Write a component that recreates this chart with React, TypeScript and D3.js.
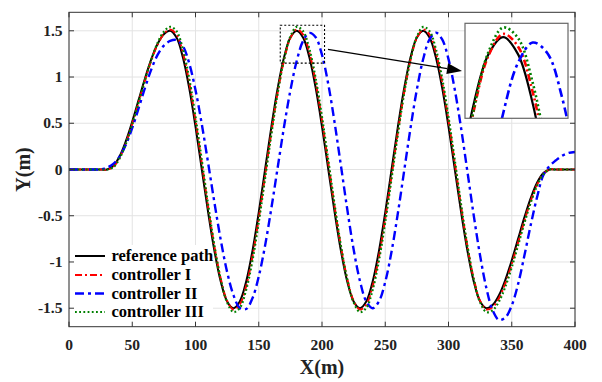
import React from 'react';
import * as d3 from 'd3';

const xs = [0,5,10,15,20,25,30,35,40,45,50,55,60,65,70,75,80,85,90,95,100,105,110,115,120,125,130,135,140,145,150,155,160,165,170,175,180,185,190,195,200,205,210,215,220,225,230,235,240,245,250,255,260,265,270,275,280,285,290,295,300,305,310,315,320,325,330,335,340,345,350,355,360,365,370,375,380,385,390,395,400];

const refPath = [0,0,0,0,0,0,0,
  0.037,0.143,0.309,0.518,0.75,0.982,1.191,1.357,1.463,1.5,
  1.427,1.214,0.882,0.464,0,-0.464,-0.882,-1.214,-1.427,-1.5,
  -1.427,-1.214,-0.882,-0.464,0,0.464,0.882,1.214,1.427,1.5,
  1.427,1.214,0.882,0.464,0,-0.464,-0.882,-1.214,-1.427,-1.5,
  -1.427,-1.214,-0.882,-0.464,0,0.464,0.882,1.214,1.427,1.5,
  1.427,1.214,0.882,0.464,0,-0.464,-0.882,-1.214,-1.427,-1.5,
  -1.463,-1.357,-1.191,-0.982,-0.75,-0.518,-0.309,-0.143,-0.037,0,
  0,0,0,0];

const ctrl1 = [0,0,0,0,0,0,0,
  0.028,0.126,0.286,0.492,0.724,0.96,1.176,1.349,1.468,1.514,
  1.46,1.264,0.944,0.53,0.067,-0.405,-0.836,-1.184,-1.421,-1.514,
  -1.46,-1.264,-0.944,-0.53,-0.067,0.405,0.836,1.184,1.421,1.514,
  1.46,1.264,0.944,0.53,0.067,-0.405,-0.836,-1.184,-1.421,-1.514,
  -1.46,-1.264,-0.944,-0.53,-0.067,0.405,0.836,1.184,1.421,1.514,
  1.46,1.264,0.944,0.53,0.067,-0.405,-0.836,-1.184,-1.421,-1.514,
  -1.487,-1.389,-1.229,-1.023,-0.791,-0.555,-0.339,-0.166,-0.047,0,
  0,0,0,0];

const ctrl2 = [0,0,0,0,0,0,
  0.02,0.06,0.14,0.27,0.45,0.66,0.88,1.08,1.24,1.34,1.39,1.4,
  1.336,1.15,0.86,0.488,0.069,-0.361,-0.765,-1.108,-1.358,-1.498,
  -1.509,-1.393,-1.157,-0.823,-0.416,0.024,0.462,0.855,1.173,1.389,1.477,
  1.431,1.239,0.92,0.504,0.038,-0.433,-0.864,-1.205,-1.426,-1.5,
  -1.427,-1.215,-0.886,-0.47,-0.01,0.45,0.866,1.195,1.407,1.48,
  1.407,1.194,0.861,0.443,-0.027,-0.501,-0.933,-1.286,-1.526,-1.627,
  -1.6,-1.47,-1.24,-0.93,-0.6,-0.3,-0.06,0.04,0.1,0.15,0.18,0.19];

const ctrl3 = [0,0,0,0,0,0,0,
  0.024,0.12,0.28,0.488,0.724,0.965,1.186,1.368,1.491,1.543,
  1.497,1.304,0.985,0.569,0.097,-0.384,-0.828,-1.19,-1.437,-1.542,
  -1.497,-1.304,-0.985,-0.569,-0.097,0.384,0.828,1.19,1.437,1.542,
  1.497,1.304,0.985,0.569,0.097,-0.384,-0.828,-1.19,-1.437,-1.542,
  -1.497,-1.304,-0.985,-0.569,-0.097,0.384,0.828,1.19,1.437,1.542,
  1.497,1.304,0.985,0.569,0.097,-0.384,-0.828,-1.19,-1.437,-1.542,
  -1.521,-1.425,-1.265,-1.057,-0.821,-0.58,-0.359,-0.177,-0.054,0,
  0,0,0,0];

const xTicks = [0,50,100,150,200,250,300,350,400];
const yTicks = [-1.5,-1,-0.5,0,0.5,1,1.5];
const yTickLabels = ['-1.5','-1','-0.5','0','0.5','1','1.5'];
const legendLabels = ['reference path','controller I','controller II','controller III'];
const zoomX = [167, 202];
const zoomY = [1.15, 1.56];

const FONT = '"Liberation Serif", "Times New Roman", serif';

const styles = [
  { color: '#000000', width: 2, dash: null, iw: 2.2, idash: null },
  { color: '#ff0000', width: 2, dash: '7,3,2,3', iw: 2.6, idash: '7,3,2,3' },
  { color: '#0000ff', width: 2.4, dash: '9,4,3,4', iw: 2.6, idash: '9,4,3,4' },
  { color: '#008000', width: 2.2, dash: '1.8,2.4', iw: 2.6, idash: '2,2.6' },
];

export default function App() {
  const W = 602, H = 382;
  const L = 69, R = 575, T = 12.3, B = 326.7;
  const x = d3.scaleLinear().domain([0, 400]).range([L, R]);
  const y = d3.scaleLinear().domain([-1.7, 1.7]).range([B, T]);
  const series = [refPath, ctrl1, ctrl2, ctrl3];

  const line = d3.line<number>()
    .x((_, i) => x(xs[i]))
    .y((d) => y(d))
    .curve(d3.curveCatmullRom.alpha(0.5));

  const iL = 465, iR = 568, iT = 23.3, iB = 118.3;
  const ix = d3.scaleLinear().domain(zoomX).range([iL, iR]);
  const iy = d3.scaleLinear().domain(zoomY).range([iB, iT]);
  const iline = d3.line<number>()
    .x((_, i) => ix(xs[i]))
    .y((d) => iy(d))
    .curve(d3.curveCatmullRom.alpha(0.5));

  const axisColor = '#333';
  const gridColor = '#e3e3e3';
  const tickLen = 5;

  const ax0 = 328, ay0 = 49.3, ax1 = 462, ay1 = 71;
  const ang = Math.atan2(ay1 - ay0, ax1 - ax0);
  const hl = 15, hw = 5.5;
  const bx = ax1 - hl * Math.cos(ang), by = ay1 - hl * Math.sin(ang);
  const head = `M${ax1},${ay1} L${bx + hw * Math.sin(ang)},${by - hw * Math.cos(ang)} L${bx - hw * Math.sin(ang)},${by + hw * Math.cos(ang)} Z`;

  const legRows = [256, 275, 293.5, 312];

  return (
    <svg width={W} height={H} style={{ position: 'absolute', left: 0, top: 0, background: '#fff' }} fontFamily={FONT}>
      <defs>
        <clipPath id="plotclip"><rect x={L} y={T} width={R - L} height={B - T} /></clipPath>
        <clipPath id="insetclip"><rect x={iL} y={iT} width={iR - iL} height={iB - iT} /></clipPath>
      </defs>
      <rect x={0} y={0} width={W} height={H} fill="#fff" />
      {xTicks.map((t) => (
        <line key={'gx' + t} x1={x(t)} x2={x(t)} y1={T} y2={B} stroke={gridColor} strokeWidth={1} />
      ))}
      {yTicks.map((t) => (
        <line key={'gy' + t} x1={L} x2={R} y1={y(t)} y2={y(t)} stroke={gridColor} strokeWidth={1} />
      ))}
      <rect x={70} y={245} width={143} height={81} fill="#fff" />
      <g clipPath="url(#plotclip)">
        {series.map((s, k) => (
          <path key={'s' + k} d={line(s) || ''} fill="none" stroke={styles[k].color}
            strokeWidth={styles[k].width} strokeDasharray={styles[k].dash || undefined} strokeLinejoin="round" />
        ))}
      </g>
      <rect x={x(zoomX[0])} y={y(zoomY[1])} width={x(zoomX[1]) - x(zoomX[0])} height={y(zoomY[0]) - y(zoomY[1])}
        fill="none" stroke="#000" strokeWidth={1.1} strokeDasharray="2,2" />
      <line x1={ax0} y1={ay0} x2={bx} y2={by} stroke="#000" strokeWidth={1.3} />
      <path d={head} fill="#000" />
      <rect x={iL} y={iT} width={iR - iL} height={iB - iT} fill="#fff" stroke="none" />
      <g clipPath="url(#insetclip)">
        {series.map((s, k) => (
          <path key={'i' + k} d={iline(s) || ''} fill="none" stroke={styles[k].color}
            strokeWidth={styles[k].iw} strokeDasharray={styles[k].idash || undefined} />
        ))}
      </g>
      <rect x={iL} y={iT} width={iR - iL} height={iB - iT} fill="none" stroke="#666" strokeWidth={1.2} />
      {legendLabels.map((lab, k) => (
        <g key={'lg' + k}>
          <line x1={75} x2={105} y1={legRows[k]} y2={legRows[k]} stroke={styles[k].color}
            strokeWidth={styles[k].width} strokeDasharray={styles[k].dash || undefined} />
          <text x={111.5} y={legRows[k] + 5.2} fontSize={16.5} fontWeight="bold" fill="#000">{lab}</text>
        </g>
      ))}
      <rect x={L} y={T} width={R - L} height={B - T} fill="none" stroke={axisColor} strokeWidth={1} />
      {xTicks.map((t) => (
        <g key={'tx' + t}>
          <line x1={x(t)} x2={x(t)} y1={B} y2={B - tickLen} stroke={axisColor} />
          <line x1={x(t)} x2={x(t)} y1={T} y2={T + tickLen} stroke={axisColor} />
          <text x={x(t)} y={349.5} textAnchor="middle" fontSize={15.5} fontWeight="bold" fill="#222">{t}</text>
        </g>
      ))}
      {yTicks.map((t, i) => (
        <g key={'ty' + t}>
          <line x1={L} x2={L + tickLen} y1={y(t)} y2={y(t)} stroke={axisColor} />
          <line x1={R} x2={R - tickLen} y1={y(t)} y2={y(t)} stroke={axisColor} />
          <text x={62.5} y={y(t) + 5.2} textAnchor="end" fontSize={15.5} fontWeight="bold" fill="#222">{yTickLabels[i]}</text>
        </g>
      ))}
      <text x={(L + R) / 2} y={374} textAnchor="middle" fontSize={20} fontWeight="bold" fill="#222">X(m)</text>
      <text transform={`translate(30,${(T + B) / 2}) rotate(-90)`} textAnchor="middle" fontSize={20} fontWeight="bold" fill="#222">Y(m)</text>
    </svg>
  );
}
